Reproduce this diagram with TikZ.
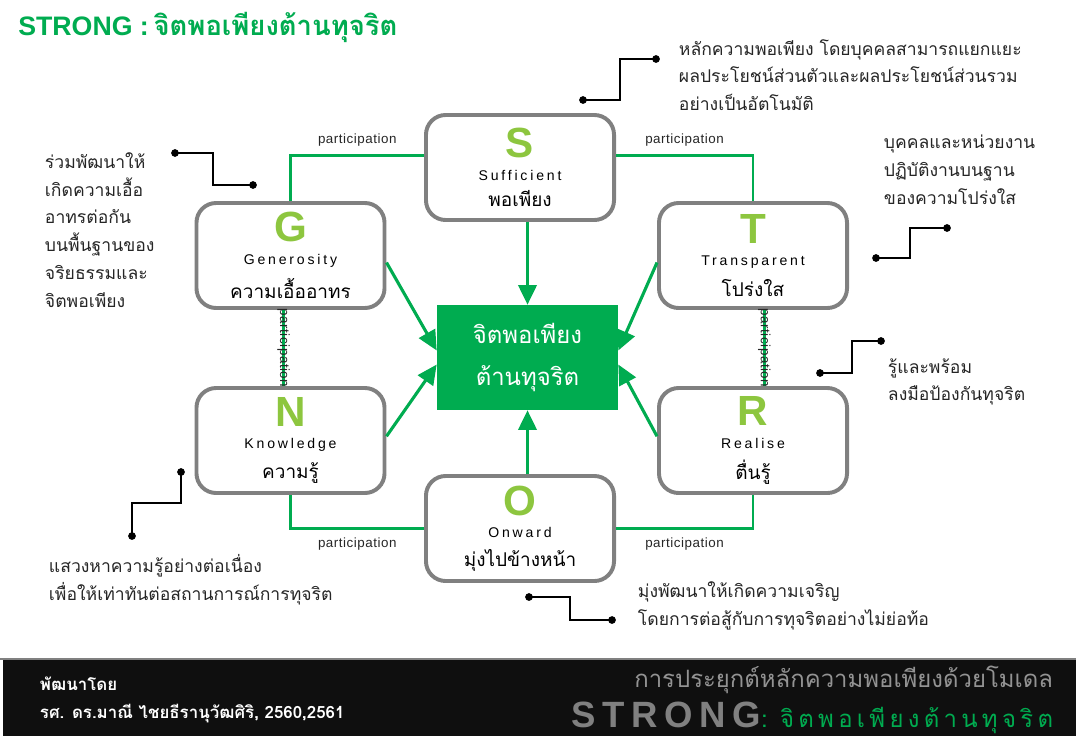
\documentclass[tikz,border=0pt]{standalone}
\usepackage{fontspec}
\setsansfont{Liberation Sans}
\newfontfamily\thai[Script=Thai]{Loma}
\newfontfamily\latin[LetterSpace=20]{Liberation Sans}
\newfontfamily\partfont[LetterSpace=4]{Liberation Sans}
\usetikzlibrary{arrows.meta}

\definecolor{sgreen}{RGB}{0,172,80}
\definecolor{lgreen}{RGB}{141,198,63}
\definecolor{bgray}{RGB}{128,128,128}

\newcommand\boxtext[3]{{\sffamily\bfseries\fontsize{30}{30}\selectfont\color{lgreen}#1}\\[4pt]{\latin\fontsize{10}{12}\selectfont #2}\\[7pt]{\thai\fontsize{13.5}{15}\selectfont #3}}

\tikzset{
    box/.style={draw=bgray, line width=2.8pt, rounded corners=14pt, fill=white,
        minimum width=4.7cm, minimum height=2.625cm, align=center, inner sep=0pt},
    core/.style={fill=sgreen, minimum width=4.525cm, minimum height=2.625cm, align=center,
        text=white, font=\thai\fontsize{17}{30}\selectfont},
    link/.style={draw=sgreen, line width=2pt},
    feed/.style={draw=sgreen, line width=2.2pt, -{Triangle[length=14pt,width=13pt]}},
    part/.style={font=\partfont\fontsize{9.5}{10}\selectfont, text=black!85},
    dot/.style={circle, fill=black, inner sep=0pt, minimum size=5.5pt},
    lead/.style={draw=black, line width=1.1pt},
    note/.style={anchor=west, align=left, font=\thai\fontsize{12.5}{19.8}\selectfont, text=black!85}
}

\begin{document}
\begin{tikzpicture}[x=0.025cm, y=-0.025cm]
\useasboundingbox[fill=white] (0,0) rectangle (1076,736);

% title
\node[anchor=west, text=sgreen, inner sep=0pt] (title) at (18,27)
    {{\sffamily\bfseries\fontsize{19}{19}\selectfont STRONG :} {\thai\bfseries\fontsize{19.5}{19.5}\selectfont จิตพอเพียงต้านทุจริต}};

% the six boxes and the core
\node[box] (s) at (520,167.5) {\boxtext{S}{Sufficient}{พอเพียง}};
\node[box] (g) at (290.5,255.5) {\boxtext{G}{Generosity}{ความเอื้ออาทร}};
\node[box] (t) at (753,255.5) {\boxtext{T}{Transparent}{โปร่งใส}};
\node[box] (n) at (290.5,440.5) {\boxtext{N}{Knowledge}{ความรู้}};
\node[box] (r) at (753,440.5) {\boxtext{R}{Realise}{ตื่นรู้}};
\node[box] (o) at (520,528.5) {\boxtext{O}{Onward}{มุ่งไปข้างหน้า}};
\node[core] (c) at (527.5,357.5) {จิตพอเพียง\\ต้านทุจริต};

% participation links
\draw[link] ([yshift=8.5pt]s.west) -| (g.north) node[part, pos=0.25, above=2pt] {participation};
\draw[link] ([yshift=8.5pt]s.east) -| (t.north) node[part, pos=0.25, above=2pt] {participation};
\draw[link] (n.south) |- (o.west) node[part, pos=0.75, below=2pt] {participation};
\draw[link] (r.south) |- (o.east) node[part, pos=0.75, below=2pt] {participation};
\draw[link] ([xshift=-5pt]g.south) -- ([xshift=-5pt]n.north) node[part, midway, rotate=-90] {participation};
\draw[link] ([xshift=8pt]t.south) -- ([xshift=8pt]r.north) node[part, midway, rotate=-90] {participation};

% arrows into the core
\draw[feed] (s.south -| c.north) -- (c.north);
\draw[feed] (o.north -| c.south) -- (c.south);
\draw[feed] ([yshift=-5pt]g.east) -- ([yshift=5pt]c.west);
\draw[feed] ([yshift=3pt]n.east) -- ([yshift=-5pt]c.west);
\draw[feed] ([yshift=-5pt]t.west) -- ([yshift=5pt]c.east);
\draw[feed] ([yshift=3pt]r.west) -- ([yshift=-5pt]c.east);

% callouts
\node[dot] (d1a) at (583,100) {};
\node[dot] (d1b) at (656,59) {};
\draw[lead] (d1a.center) -- ++(37,0) |- (d1b.center);
\node[note] (n1) at (674,75) {หลักความพอเพียง โดยบุคคลสามารถแยกแยะ\\ผลประโยชน์ส่วนตัวและผลประโยชน์ส่วนรวม\\อย่างเป็นอัตโนมัติ};

\node[dot] (d2a) at (175,153) {};
\node[dot] (d2b) at (253,185) {};
\draw[lead] (d2a.center) -- ++(38,0) |- (d2b.center);
\node[note] (n2) at (40,230) {ร่วมพัฒนาให้\\เกิดความเอื้อ\\อาทรต่อกัน\\บนพื้นฐานของ\\จริยธรรมและ\\จิตพอเพียง};

\node[dot] (d3a) at (947,228) {};
\node[dot] (d3b) at (876,258) {};
\draw[lead] (d3a.center) -- ++(-37,0) |- (d3b.center);
\node[note] (n3) at (879,170) {บุคคลและหน่วยงาน\\ปฏิบัติงานบนฐาน\\ของความโปร่งใส};

\node[dot] (d4a) at (881,341) {};
\node[dot] (d4b) at (820,373) {};
\draw[lead] (d4a.center) -- ++(-29,0) |- (d4b.center);
\node[note] (n4) at (883,382) {รู้และพร้อม\\ลงมือป้องกันทุจริต};

\node[dot] (d5a) at (181,472) {};
\node[dot] (d5b) at (132,536) {};
\draw[lead] (d5a.center) -- ++(0,31) -| (d5b.center);
\node[note] (n5) at (44,580) {แสวงหาความรู้อย่างต่อเนื่อง\\เพื่อให้เท่าทันต่อสถานการณ์การทุจริต};

\node[dot] (d6a) at (529,597) {};
\node[dot] (d6b) at (612,620) {};
\draw[lead] (d6a.center) -- ++(41,0) |- (d6b.center);
\node[note] (n6) at (633,606) {มุ่งพัฒนาให้เกิดความเจริญ\\โดยการต่อสู้กับการทุจริตอย่างไม่ย่อท้อ};

% footer
\fill[black!94] (3,660) rectangle (1076,736);
\draw[gray, line width=1pt] (0,659) -- (1076,659);
\node[anchor=west, align=left, text=white, font=\thai\bfseries\fontsize{12}{19.8}\selectfont] (dev) at (35,700)
    {พัฒนาโดย\\รศ. ดร.มาณี ไชยธีรานุวัฒศิริ, 2560,2561};
\node[anchor=east, text=gray!85, font=\thai\fontsize{17}{17}\selectfont] (sub) at (1058,680)
    {การประยุกต์หลักความพอเพียงด้วยโมเดล};
\node[anchor=base east] (brand) at (1058,727)
    {{\color{gray}\sffamily\bfseries\fontsize{26}{26}\selectfont\addfontfeature{LetterSpace=18}STRONG}{\color{sgreen}\thai\fontsize{17}{17}\selectfont\addfontfeature{LetterSpace=18}: จิตพอเพียงต้านทุจริต}};
\end{tikzpicture}
\end{document}
